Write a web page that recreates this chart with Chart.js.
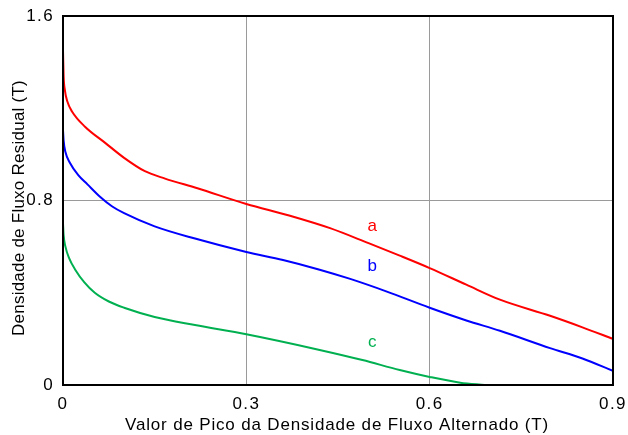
<!DOCTYPE html>
<html>
<head>
<meta charset="utf-8">
<script src="https://cdn.jsdelivr.net/npm/chart.js@4"></script>
<style>
  body { margin: 0; background: #fff; }
  #wrap { width: 628px; height: 435px; }
</style>
</head>
<body>
<div id="wrap"><canvas id="grafico"></canvas></div>
<script>
// curvas (x = pico alternado, y = residual)
const curvaA = [[0,1.45],[0.001,1.34],[0.003,1.28],[0.007,1.23],[0.015,1.185],[0.036,1.12],[0.069,1.05],
  [0.10,0.985],[0.134,0.927],[0.167,0.895],[0.22,0.853],[0.30,0.785],[0.37,0.735],[0.437,0.68],
  [0.50,0.615],[0.55,0.562],[0.60,0.507],[0.66,0.435],[0.715,0.37],[0.797,0.30],[0.85,0.25],[0.90,0.20]];
const curvaB = [[0,1.105],[0.001,1.06],[0.004,1.01],[0.011,0.965],[0.025,0.91],[0.04,0.87],
  [0.061,0.815],[0.08,0.775],[0.10,0.745],[0.15,0.688],[0.216,0.635],[0.30,0.577],[0.36,0.542],
  [0.42,0.50],[0.47,0.46],[0.53,0.405],[0.60,0.335],[0.66,0.28],[0.715,0.235],[0.797,0.16],
  [0.85,0.115],[0.90,0.061]];
const curvaC = [[0,0.70],[0.001,0.65],[0.004,0.60],[0.01,0.55],[0.02,0.50],[0.035,0.445],
  [0.052,0.40],[0.075,0.362],[0.10,0.335],[0.15,0.295],[0.216,0.26],[0.30,0.22],[0.42,0.152],
  [0.49,0.108],[0.551,0.065],[0.60,0.035],[0.65,0.01],[0.69,0]];
const nomes = ['a', 'b', 'c'];
const posNomes = [[0.506, 0.69], [0.506, 0.515], [0.506, 0.186]];
const cores = ['#ff0000', '#0000ff', '#00b050'];
const ticksX = [0, 0.3, 0.6, 0.9];
const ticksY = [0, 0.8, 1.6];
const tituloX = 'Valor de Pico da Densidade de Fluxo Alternado (T)';
const tituloY = 'Densidade de Fluxo Residual (T)';

const toXY = function(arr){
    return arr.map(p => ({x: p[0], y: p[1]}));
};

const FAM = '"Liberation Sans", Arial, sans-serif';
const fonte = {family: FAM, size: 17};

// texto com espacamento para chegar na largura desejada
const textoLargo = function(c, txt, largura){
    c.letterSpacing = '0px';
    const w = c.measureText(txt).width;
    c.letterSpacing = ((largura - w) / txt.length) + 'px';
    c.fillText(txt, 0, 0);
};

const extras = {
    id: 'extras',
    beforeDraw(chart){
        chart.ctx.letterSpacing = '1.4px';
    },
    afterDraw(chart){
        const c = chart.ctx, a = chart.chartArea;
        const sx = chart.scales.x, sy = chart.scales.y;
        c.save();
        c.letterSpacing = '0px';
        c.strokeStyle = '#000';
        c.lineWidth = 2;
        c.strokeRect(a.left, a.top, a.right - a.left, a.bottom - a.top);
        c.font = '17px ' + FAM;
        c.textAlign = 'center';
        c.textBaseline = 'middle';
        nomes.forEach((n, i) => {
            c.fillStyle = cores[i];
            c.fillText(n, sx.getPixelForValue(posNomes[i][0]), sy.getPixelForValue(posNomes[i][1]));
        });
        c.fillStyle = '#000';
        c.textAlign = 'left';
        c.save();
        c.translate(125, 425);
        textoLargo(c, tituloX, 424);
        c.restore();
        c.save();
        c.translate(19, 336);
        c.rotate(-Math.PI / 2);
        textoLargo(c, tituloY, 256);
        c.restore();
        c.restore();
    }
};

const gridCor = function(ctx){
    if (!ctx.tick || ctx.index === 0 || ctx.index === ctx.scale.ticks.length - 1) return 'rgba(0,0,0,0)';
    return '#9a9a9a';
};

new Chart(document.getElementById('grafico').getContext('2d'), {
    type: 'line',
    data: {
        datasets: [curvaA, curvaB, curvaC].map((d, i) => ({
            label: nomes[i],
            data: toXY(d),
            borderColor: cores[i],
            borderWidth: 2,
            pointRadius: 0,
            fill: false,
            cubicInterpolationMode: 'monotone'
        }))
    },
    options: {
        responsive: true,
        maintainAspectRatio: false,
        animation: false,
        layout: {padding: {left: 0, right: 15, top: 16, bottom: 0}},
        plugins: {legend: {display: false}, tooltip: {enabled: false}},
        scales: {
            x: {
                type: 'linear', min: 0, max: 0.9,
                afterBuildTicks: s => { s.ticks = ticksX.map(v => ({value: v})); },
                afterFit: s => { s.height = 50; s.paddingLeft = 0; s.paddingRight = 0; },
                border: {display: false},
                grid: {color: gridCor, lineWidth: 1, drawTicks: false},
                ticks: {color: '#000', font: fonte, padding: 9, maxRotation: 0,
                    callback: v => String(v)},
                title: {display: false}
            },
            y: {
                type: 'linear', min: 0, max: 1.6,
                afterBuildTicks: s => { s.ticks = ticksY.map(v => ({value: v})); },
                afterFit: s => { s.width = 63; s.paddingTop = 0; s.paddingBottom = 0; },
                border: {display: false},
                grid: {color: gridCor, lineWidth: 1, drawTicks: false},
                ticks: {color: '#000', font: fonte, padding: 9,
                    callback: v => String(v)},
                title: {display: false}
            }
        }
    },
    plugins: [extras]
});
</script>
</body>
</html>
